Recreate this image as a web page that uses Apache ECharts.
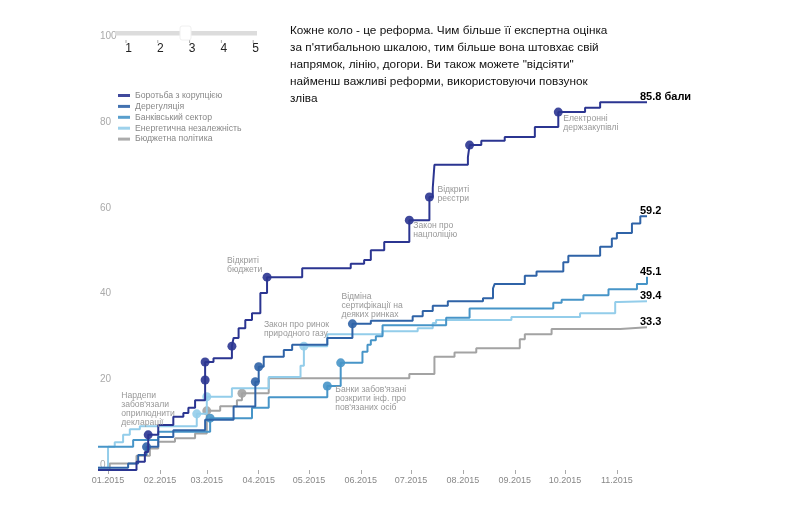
<!DOCTYPE html>
<html>
<head>
<meta charset="utf-8">
<script src="https://cdn.jsdelivr.net/npm/echarts@6/dist/echarts.min.js"></script>
<style>html,body{margin:0;padding:0;background:#fff}#c{width:800px;height:524px}</style>
</head>
<body>
<div id="c"></div>
<script>
// ---------- DATA ----------
const seriesNames = ['Боротьба з корупцією', 'Дерегуляція', 'Банківський сектор', 'Енергетична незалежність', 'Бюджетна політика'];
const xStart = '2014-12-26';
const xEnd = '2015-11-19';
const yTicks = [0, 20, 40, 60, 80, 100];
const sliderTicks = [1, 2, 3, 4, 5];
// [date, score, reform circle (1) or not (0)]
const antiCorruption = [
  ['2014-12-26', 0, 0], ['2015-01-18', 1.9, 0], ['2015-01-23', 4.2, 0], ['2015-01-25', 8.2, 1],
  ['2015-01-31', 10.5, 0], ['2015-02-09', 12.4, 0], ['2015-02-15', 13.3, 0], ['2015-02-18', 14.5, 0],
  ['2015-02-22', 16.3, 0], ['2015-02-28', 21, 1], ['2015-02-28', 25.2, 1], ['2015-03-05', 26.1, 0],
  ['2015-03-16', 28.9, 1], ['2015-03-17', 30.8, 0], ['2015-03-20', 33.1, 0], ['2015-03-24', 35, 0],
  ['2015-03-28', 36.6, 0], ['2015-04-02', 41.3, 0], ['2015-04-06', 45, 1], ['2015-04-27', 47.1, 0],
  ['2015-05-26', 48.1, 0], ['2015-06-03', 49, 0], ['2015-06-07', 51.3, 0], ['2015-06-15', 53.2, 0],
  ['2015-06-30', 58.3, 1], ['2015-07-12', 63.7, 1], ['2015-07-14', 65.8, 0], ['2015-07-15', 71.2, 0],
  ['2015-08-04', 73, 0], ['2015-08-05', 75.8, 1], ['2015-08-12', 76.8, 0], ['2015-08-26', 77.7, 0],
  ['2015-09-13', 80, 0], ['2015-09-27', 83.5, 1], ['2015-10-13', 84.5, 0], ['2015-10-22', 85.8, 0],
  ['2015-11-19', 85.8, 0]
];
const deregulation = [
  ['2014-12-26', 0.5, 0], ['2015-01-13', 1.5, 0], ['2015-01-19', 3.5, 0], ['2015-01-24', 5.4, 1],
  ['2015-01-31', 7.7, 0], ['2015-02-09', 9.3, 0], ['2015-02-28', 11.7, 0], ['2015-03-17', 14.8, 0],
  ['2015-03-30', 20.6, 1], ['2015-04-01', 24.1, 1], ['2015-04-04', 26.4, 0], ['2015-04-16', 28, 0],
  ['2015-04-21', 29.2, 0], ['2015-05-12', 30.8, 0], ['2015-05-27', 34.1, 1], ['2015-06-07', 34.8, 0],
  ['2015-07-02', 35.9, 0], ['2015-07-08', 37.1, 0], ['2015-07-14', 38.3, 0], ['2015-07-23', 39.4, 0],
  ['2015-08-13', 40.1, 0], ['2015-08-19', 42.4, 0], ['2015-08-20', 43.4, 0], ['2015-09-07', 45.3, 0],
  ['2015-09-14', 46.3, 0], ['2015-09-30', 48.5, 0], ['2015-10-03', 50, 0], ['2015-10-22', 52.1, 0],
  ['2015-10-29', 54, 0], ['2015-11-01', 55.3, 0], ['2015-11-10', 57.5, 0], ['2015-11-15', 59.2, 0],
  ['2015-11-19', 59.2, 0]
];
const banking = [
  ['2014-12-26', 5.4, 0], ['2015-01-16', 7, 0], ['2015-01-31', 8.9, 0], ['2015-03-03', 12.1, 1],
  ['2015-03-28', 14.5, 0], ['2015-04-07', 17, 0], ['2015-05-12', 19.6, 1], ['2015-05-20', 25, 1],
  ['2015-06-02', 27.6, 0], ['2015-06-05', 29.2, 0], ['2015-06-07', 30.3, 0], ['2015-06-10', 31.2, 0],
  ['2015-06-14', 33.8, 0], ['2015-07-22', 35.5, 0], ['2015-08-05', 37.7, 0], ['2015-09-24', 39, 0],
  ['2015-09-29', 39.7, 0], ['2015-10-12', 40.8, 0], ['2015-10-27', 42.2, 0], ['2015-11-13', 43.4, 0],
  ['2015-11-19', 45.1, 0]
];
const energy = [
  ['2014-12-26', 0.5, 0], ['2015-01-01', 5.4, 0], ['2015-01-05', 6.5, 0], ['2015-01-10', 8.2, 0],
  ['2015-01-14', 9.5, 0], ['2015-01-20', 10.2, 0], ['2015-02-23', 13.1, 1], ['2015-03-01', 17.1, 1],
  ['2015-03-16', 19.1, 0], ['2015-04-07', 21.7, 0], ['2015-04-26', 24.3, 0], ['2015-04-28', 28.9, 1],
  ['2015-05-12', 31.7, 0], ['2015-06-14', 32.4, 0], ['2015-07-05', 33.1, 0], ['2015-07-14', 34.3, 0],
  ['2015-07-16', 35, 0], ['2015-08-30', 35.7, 0], ['2015-10-10', 36.6, 0], ['2015-10-31', 39.2, 0],
  ['2015-11-02', 39.4, 0], ['2015-11-19', 39.4, 0]
];
const budget = [
  ['2014-12-26', 0, 0], ['2015-01-02', 1.5, 0], ['2015-01-18', 3.3, 0], ['2015-01-26', 5, 0],
  ['2015-01-31', 6.6, 0], ['2015-02-10', 7.4, 0], ['2015-02-22', 8.5, 0], ['2015-03-01', 13.8, 1],
  ['2015-03-09', 14.9, 0], ['2015-03-19', 16.3, 0], ['2015-03-22', 17.9, 1], ['2015-04-07', 21.4, 0],
  ['2015-06-30', 22.4, 0], ['2015-07-15', 26.4, 0], ['2015-07-27', 27.4, 0], ['2015-08-09', 28.4, 0],
  ['2015-09-04', 30.5, 0], ['2015-09-07', 31.7, 0], ['2015-09-23', 32.9, 0], ['2015-11-03', 33.3, 0],
  ['2015-11-19', 33.3, 0]
];
const endSuffix = [' бали', '', '', '', ''];
const title = 'Кожне коло - це реформа. Чим більше її експертна оцінка\nза п\'ятибальною шкалою, тим більше вона штовхає свій\nнапрямок, лінію, догори. Ви також можете "відсіяти"\nнайменш важливі реформи, використовуючи повзунок\nзліва';
// annotations: [series index, date of the reform circle, text]
const notes = [
  [0, '2015-01-25', 'Нардепи\nзабов\'язали\nоприлюднити\nдекларації'],
  [0, '2015-04-06', 'Відкриті\nбюджети'],
  [3, '2015-04-28', 'Закон про ринок\nприродного газу'],
  [1, '2015-05-27', 'Відміна\nсертифікації на\nдеяких ринках'],
  [2, '2015-05-12', 'Банки забов\'язані\nрозкрити інф. про\nпов\'язаних осіб'],
  [0, '2015-06-30', 'Закон про\nнацполіцію'],
  [0, '2015-07-12', 'Відкриті\nреєстри'],
  [0, '2015-09-27', 'Електронні\nдержзакупівлі']
];

// ---------- STYLE / LAYOUT ----------
const SANS = '"Liberation Sans", Arial, sans-serif';
const colors = ['#2b3591', '#2f63a7', '#4795c8', '#93cdea', '#a3a3a3'];
const zs = [6, 5, 4, 3, 2];
const noteOffsets = [[-27, -44], [-40, -21], [-40, -26], [-11, -32], [8, -1], [4, 1], [8, -12], [5, 2]];
const allData = [antiCorruption, deregulation, banking, energy, budget];

const chart = echarts.init(document.getElementById('c'), null, {renderer: 'canvas'});

function build(arr) {
  return arr.map(p => ({value: [p[0], p[1]], symbol: p[2] ? 'circle' : 'none'}));
}

const series = seriesNames.map((name, i) => ({
  name: name,
  type: 'line',
  step: 'end',
  z: zs[i],
  data: build(allData[i]),
  showSymbol: true,
  showAllSymbol: true,
  symbolSize: 9,
  itemStyle: {color: colors[i], opacity: 0.9},
  lineStyle: {color: colors[i], width: 2},
  emphasis: {disabled: true},
  endLabel: {
    show: true,
    formatter: p => p.value[1].toFixed(1) + endSuffix[i],
    color: '#000',
    fontWeight: 'bold',
    fontSize: 11,
    fontFamily: SANS,
    offset: [-15, -5]
  }
}));

const sliderX0 = 126, sliderStep = 31.8;
const graphics = [
  {type: 'rect', shape: {x: 115, y: 31, width: 142, height: 4.5}, style: {fill: '#dcdcdc'}, z: 10},
  {type: 'rect', shape: {x: 180, y: 26, width: 11, height: 14, r: 2}, style: {fill: '#fff', stroke: '#f0f0f0'}, z: 11}
];
sliderTicks.forEach((t, k) => {
  const x = sliderX0 + k * sliderStep;
  graphics.push({type: 'line', shape: {x1: x, y1: 40, x2: x, y2: 43}, style: {stroke: '#aaa', lineWidth: 1}, z: 10});
  graphics.push({type: 'text', x: x + 2.5, y: 48.5, style: {text: String(t), fill: '#222', font: '12px ' + SANS, align: 'center', verticalAlign: 'middle'}, z: 10});
});

chart.setOption({
  animation: false,
  backgroundColor: '#fff',
  color: colors,
  title: {
    text: title,
    left: 285,
    top: 17,
    textStyle: {fontSize: 11.8, fontWeight: 'normal', color: '#111', lineHeight: 17, fontFamily: SANS}
  },
  legend: {
    data: seriesNames,
    orient: 'vertical',
    left: 113,
    top: 85.5,
    icon: 'rect',
    itemWidth: 12,
    itemHeight: 3,
    itemGap: 0.9,
    textStyle: {fontSize: 8.7, color: '#888', lineHeight: 10, fontFamily: SANS},
    selectedMode: false
  },
  grid: {left: 98, right: 153, top: 41.4, bottom: 54, containLabel: false},
  xAxis: {
    type: 'time',
    min: xStart,
    max: xEnd,
    splitNumber: 11,
    axisLine: {show: false},
    axisTick: {show: true, length: 4, lineStyle: {color: '#aaa'}},
    splitLine: {show: false},
    axisLabel: {formatter: '{MM}.{yyyy}', color: '#888', fontSize: 9, margin: 6, fontFamily: SANS, showMinLabel: false, showMaxLabel: false}
  },
  yAxis: {
    type: 'value',
    min: yTicks[0],
    max: yTicks[yTicks.length - 1],
    interval: yTicks[1] - yTicks[0],
    axisLine: {show: false},
    axisTick: {show: false},
    splitLine: {show: false},
    axisLabel: {inside: true, margin: 2, verticalAlign: 'bottom', color: '#aaa', fontSize: 10, fontFamily: SANS}
  },
  series: series,
  graphic: graphics
});

// annotations anchored on their reform circles
const noteGraphics = notes.map((n, k) => {
  const pt = allData[n[0]].find(p => p[0] === n[1] && p[2]);
  const px = chart.convertToPixel({xAxisIndex: 0, yAxisIndex: 0}, [n[1], pt[1]]);
  return {
    type: 'text',
    x: px[0] + noteOffsets[k][0],
    y: px[1] + noteOffsets[k][1],
    z: 20,
    style: {text: n[2], fill: '#999', font: '8.6px ' + SANS, lineHeight: 9, align: 'left', verticalAlign: 'top'}
  };
});
chart.setOption({graphic: graphics.concat(noteGraphics)});
</script>
</body>
</html>
